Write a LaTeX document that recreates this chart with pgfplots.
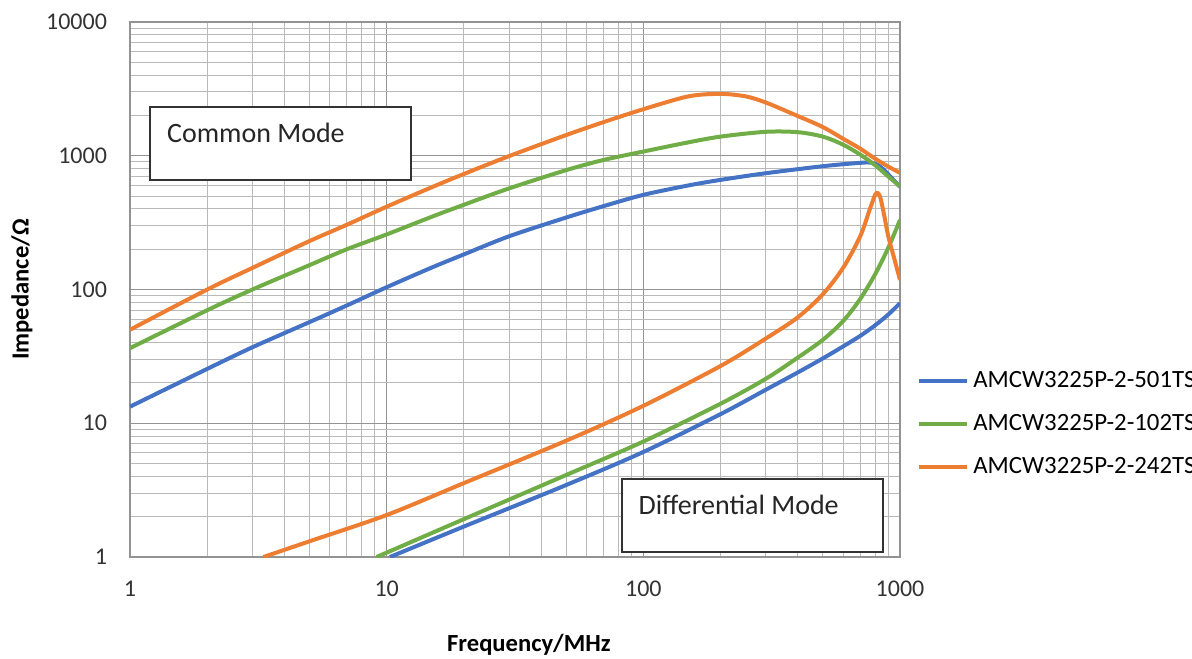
\documentclass[border=0pt]{standalone}
\usepackage{fontspec}
\setmainfont{Carlito}
\usepackage{pgfplots}
\pgfplotsset{compat=1.18}
\definecolor{cmblue}{HTML}{4472C4}
\definecolor{cmgreen}{HTML}{70AD47}
\definecolor{cmorange}{HTML}{ED7D31}

\begin{document}
\begin{tikzpicture}
\begin{axis}[
  at={(0,0)}, anchor=south west,
  scale only axis,
  width=385pt, height=267.5pt,
  xmode=log, ymode=log,
  xmin=1, xmax=1000, ymin=1, ymax=10000,
  xtick={1,10,100,1000}, xticklabels={1,10,100,1000},
  ytick={1,10,100,1000,10000}, yticklabels={1,10,100,1000,10000},
  grid=both,
  major grid style={gray!85, line width=0.6pt},
  minor grid style={gray!55, line width=0.5pt},
  axis line style={gray!85, line width=0.6pt},
  major tick length=0pt, minor tick length=0pt,
  tick label style={font=\fontsize{12}{14}\selectfont, text=black!80},
  xticklabel style={yshift=-8.5pt},
  yticklabel style={xshift=-8pt},
  xlabel={\textbf{Frequency/MHz}},
  ylabel={\textbf{Impedance/Ω}},
  label style={font=\fontsize{12.3}{14}\selectfont},
  xlabel style={at={(axis description cs:0.518,0)}, anchor=center, yshift=-44pt},
  ylabel style={at={(axis description cs:-0.1403,0.5)}, anchor=center},
  legend style={at={(axis description cs:1.022,0.3547)}, anchor=north west,
    draw=none, fill=none, font=\fontsize{12.4}{14}\selectfont, row sep=8pt, inner sep=0pt},
  legend cell align=left,
  legend image code/.code={\draw[#1, line width=2pt] (0pt,0pt) -- (24pt,0pt);},
  every axis plot/.append style={line width=2pt, smooth, no markers},
]
% AMCW3225P-2-501TS
\addplot[cmblue] coordinates {
  (1,13.3) (2,25.5) (3,37) (5,57) (7,76) (10,104) (15,146) (20,183) (30,250)
  (50,345) (70,420) (100,510) (150,600) (200,660) (300,740) (500,835)
  (700,885) (780,885) (850,810) (1000,585)
};
\addlegendentry{AMCW3225P-2-501TS}
\addplot[cmblue, forget plot] coordinates {
  (10.3,1) (20,1.69) (50,3.45) (100,6.1) (200,11.7) (300,17.8) (400,24)
  (500,30.5) (600,37.5) (700,45) (800,54) (900,65) (1000,79)
};
% AMCW3225P-2-102TS
\addplot[cmgreen] coordinates {
  (1,36.4) (2,70) (3,100) (5,152) (7,200) (10,258) (15,350) (20,430) (30,570)
  (50,780) (70,930) (100,1075) (150,1260) (200,1390) (300,1510) (400,1500)
  (500,1390) (600,1210) (700,1020) (800,850) (900,700) (1000,590)
};
\addlegendentry{AMCW3225P-2-102TS}
\addplot[cmgreen, forget plot] coordinates {
  (9.14,1) (20,1.92) (50,4.1) (100,7.3) (200,14) (300,21.5) (400,31)
  (500,42) (600,58) (700,85) (800,130) (900,205) (1000,331)
};
% AMCW3225P-2-242TS
\addplot[cmorange] coordinates {
  (1,50) (2,100) (3,145) (5,230) (7,305) (10,416) (15,582) (20,731) (30,994)
  (50,1427) (70,1784) (100,2228) (150,2780) (200,2900) (250,2780) (300,2500)
  (400,1980) (500,1640) (600,1340) (700,1130) (800,950) (900,830) (1000,745)
};
\addlegendentry{AMCW3225P-2-242TS}
\addplot[cmorange, forget plot] coordinates {
  (3.31,1) (5,1.31) (10,2.06) (20,3.57) (50,7.4) (100,13.5) (200,26.8)
  (300,43) (400,62) (500,92) (600,145) (700,250) (760,390) (800,510)
  (820,525) (840,480) (870,350) (900,250) (950,170) (1000,118)
};

\draw[black!80, line width=0.8pt, fill=white]
  (axis description cs:0.026,0.705) rectangle (axis description cs:0.365,0.841);
\node[anchor=base west, inner sep=0pt, font=\fontsize{14}{16}\selectfont, text=black!85]
  at (axis description cs:0.0477,0.774) {Common Mode};
\draw[black!80, line width=0.8pt, fill=white]
  (axis description cs:0.639,0.0093) rectangle (axis description cs:0.978,0.1458);
\node[anchor=base west, inner sep=0pt, font=\fontsize{14}{16}\selectfont, text=black!85]
  at (axis description cs:0.66,0.0785) {Differential Mode};
\end{axis}
\pgfresetboundingbox
\useasboundingbox (-65pt,-50.5pt) rectangle (531pt,278.5pt);
\end{tikzpicture}
\end{document}
